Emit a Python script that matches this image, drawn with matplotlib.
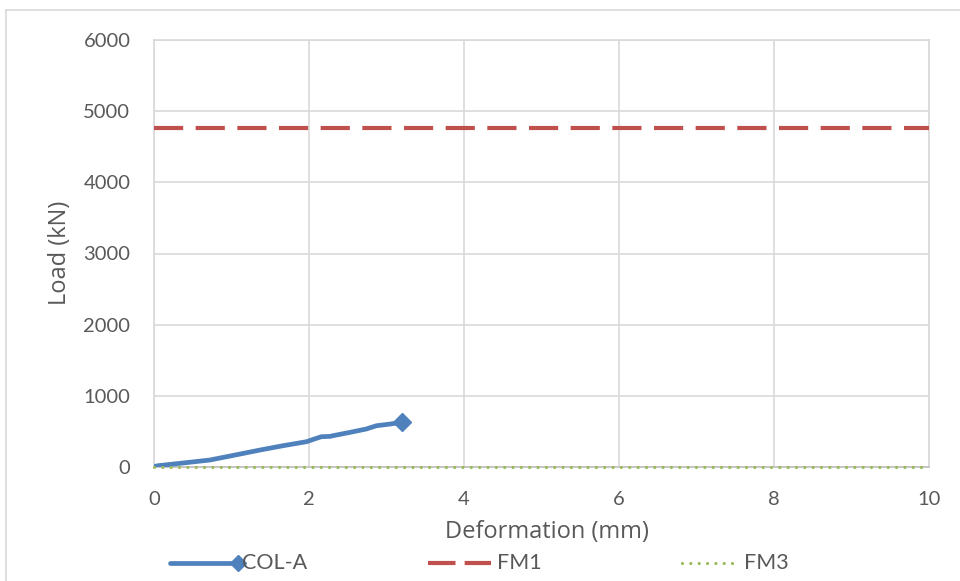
import matplotlib
matplotlib.use("Agg")
import matplotlib.pyplot as plt
from matplotlib.lines import Line2D

# Measured load-deformation curve of column COL-A
col_a_def = [0.0, 0.05, 0.34, 0.72, 1.05, 1.37, 1.67, 1.97, 2.06, 2.16, 2.27,
             2.31, 2.53, 2.74, 2.87, 3.05, 3.20]
col_a_load = [5, 18, 52, 98, 169, 239, 300, 356, 390, 426, 430,
              440, 487, 534, 580, 604, 630]

# Predicted capacities (horizontal reference lines)
fm1_load = 4770
fm3_load = 0

x_ticks = [0, 2, 4, 6, 8, 10]
y_ticks = [0, 1000, 2000, 3000, 4000, 5000, 6000]
series_names = ["COL-A", "FM1", "FM3"]

BLUE = "#4F81BD"
RED = "#C0504D"
GREEN = "#9BBB59"
GRID = "#D9D9D9"
TEXT = "#595959"

W, H = 960, 581
fig = plt.figure(figsize=(W / 100, H / 100), dpi=100)
ax = fig.add_axes([154 / W, 1 - 467 / H, 775 / W, 427 / H])

blue_style = dict(color=BLUE, lw=3.4, solid_capstyle="round",
                  solid_joinstyle="round")
red_style = dict(color=RED, lw=3.0, dashes=(7, 3))
green_style = dict(color=GREEN, lw=2.3, linestyle=(0, (0.01, 2.6)),
                   dash_capstyle="round")

ax.plot(col_a_def, col_a_load, zorder=4, **blue_style)
ax.plot(col_a_def[-1:], col_a_load[-1:], marker="D", color=BLUE, ms=9,
        ls="none", zorder=5)
ax.plot([0, 10], [fm1_load, fm1_load], zorder=3, **red_style)
ax.plot([0, 10], [fm3_load, fm3_load], zorder=6, clip_on=False,
        **green_style)

ax.set_xlim(0, 10)
ax.set_ylim(0, 6000)
ax.set_xticks(x_ticks)
ax.set_yticks(y_ticks)
ax.grid(True, color=GRID, lw=1.2)
ax.set_axisbelow(True)
for sp in ax.spines.values():
    sp.set_color(GRID)
    sp.set_linewidth(1.2)
ax.spines["bottom"].set_color("#BFBFBF")
ax.tick_params(length=0, labelsize=14.5, labelcolor=TEXT)
ax.tick_params(axis="x", pad=17)
ax.tick_params(axis="y", pad=17)
for lbl in ax.get_xticklabels() + ax.get_yticklabels():
    lbl.set_family("Lato")

fig.text(547 / W, 1 - 532 / H, "Deformation (mm)", fontsize=17, color=TEXT,
         family="Open Sans", ha="center", va="center")
fig.text(60 / W, 1 - 253 / H, "Load (kN)", fontsize=17, color=TEXT,
         family="Open Sans", ha="center", va="center", rotation=90)

# Legend row below the plot
ly = 1 - 563 / H
legend_red = dict(red_style, dashes=(6.6, 2.2))
legend_items = [
    (170, 238, 242, blue_style),
    (428, 491, 497, legend_red),
    (682, 737, 744, green_style),
]
for name, (x0, x1, xt, style) in zip(series_names, legend_items):
    fig.add_artist(Line2D([x0 / W, x1 / W], [ly, ly],
                          transform=fig.transFigure, **style))
    fig.text(xt / W, ly, name, fontsize=15.5, color=TEXT, family="Lato",
             ha="left", va="center")
fig.add_artist(Line2D([238 / W], [ly], transform=fig.transFigure,
                      marker="D", color=BLUE, ms=8.5, ls="none"))

# Chart-area border
fig.add_artist(Line2D([5.5 / W, 5.5 / W], [0, 1 - 9.5 / H],
                      transform=fig.transFigure, color=GRID, lw=1.2))
fig.add_artist(Line2D([5.5 / W, 1], [1 - 9.5 / H, 1 - 9.5 / H],
                      transform=fig.transFigure, color=GRID, lw=1.2))

fig.savefig("out.png", dpi=100, facecolor="white")
